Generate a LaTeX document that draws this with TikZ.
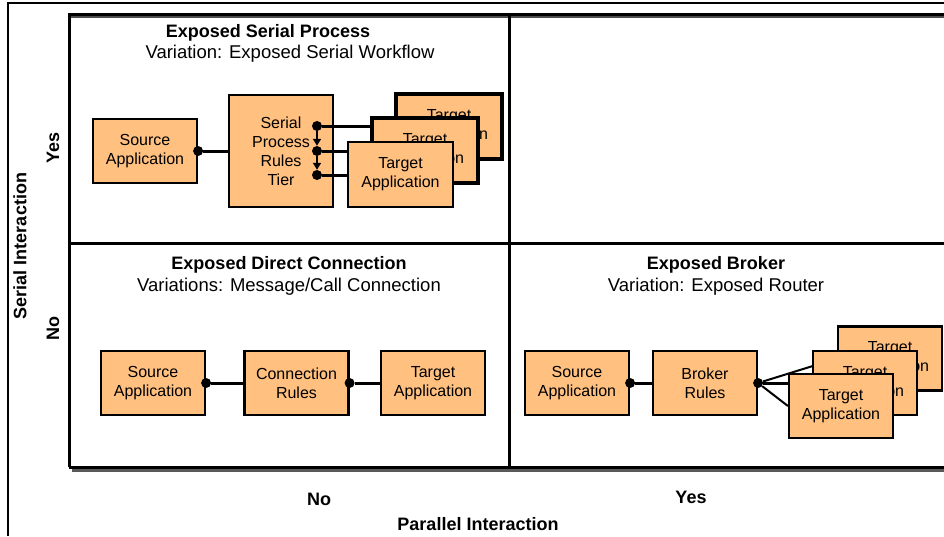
\documentclass[tikz,border=0pt]{standalone}
\usepackage{fontspec}
\setmainfont{Liberation Sans}
\usetikzlibrary{arrows.meta}
\definecolor{boxfill}{HTML}{FFC080}
\tikzset{
  every node/.style={font=\fontsize{18.5}{19}\selectfont},
  appbox/.style={draw=black, line width=2.2pt, fill=boxfill, minimum width=104pt, minimum height=64pt, align=center, inner sep=0pt, font=\fontsize{16}{19}\selectfont},
  thickbox/.style={appbox, line width=4.5pt},
  dotnode/.style={circle, fill=black, inner sep=0pt, minimum size=10pt},
  conn/.style={line width=3pt},
  gridline/.style={line width=3pt},
  title/.style={font=\fontsize{18}{19}\selectfont\bfseries},
  axislabel/.style={font=\fontsize{18}{19}\selectfont\bfseries},
}
\begin{document}
\begin{tikzpicture}[x=1pt, y=-1pt]
\useasboundingbox (0,0) rectangle (944,536);
% outer frame
\draw[line width=1.3pt] (8,536) -- (8,3) -- (944,3);
% grid with shadow
\draw[line width=4pt, gray!70!black] (72,470) -- (944,470);
\draw[line width=2pt, gray!60!black] (69,16.5) -- (944,16.5);
\draw[gridline] (69,467) -- (69,14) -- (944,14);
\draw[gridline] (69,467) -- (944,467);
\draw[gridline] (509,14) -- (509,467);
\draw[gridline] (69,243) -- (944,243);

% axis labels
\node[axislabel, rotate=90] (serial) at (20,246) {Serial Interaction};
\node[axislabel, rotate=90] (yesL) at (53,148) {Yes};
\node[axislabel, rotate=90] (noL) at (53,328) {No};
\node[axislabel] (noB) at (319,499) {No};
\node[axislabel] (yesB) at (691,497) {Yes};
\node[axislabel] (par) at (478,524) {Parallel Interaction};

% top-left quadrant
\node[title] (t1) at (268,33) {Exposed Serial Process};
\node (v1) at (290,54) {Variation: Exposed Serial Workflow};
\node[appbox] (src1) at (145,151) {Source\\Application};
\node[appbox, minimum height=112pt] (tier) at (281,151) {Serial\\Process\\Rules\\Tier};
\node[dotnode] (sd1) at (src1.east) {};
\draw[conn] (sd1) -- (tier.west |- sd1);
\node[dotnode] (d1) at (317,126) {};
\node[dotnode] (d2) at (317,151) {};
\node[dotnode] (d3) at (317,175) {};
\draw[line width=2pt, -{Triangle[length=7pt,width=8pt]}] (d1) -- (d2);
\draw[line width=2pt, -{Triangle[length=7pt,width=8pt]}] (d2) -- (d3);
\node[thickbox, minimum width=106pt, minimum height=65pt] (tA) at (449,126.5) {Target\\Application};
\draw[conn] (d1) -- (d1 -| tA.west);
\node[thickbox, minimum width=106pt, minimum height=65pt] (tB) at (425,150.5) {Target\\Application};
\draw[conn] (d2) -- (d2 -| tB.west);
\node[appbox, minimum width=105pt, minimum height=65pt] (tC) at (400.5,174.5) {Target\\Application};
\draw[conn] (d3) -- (d3 -| tC.west);

% bottom-left quadrant
\node[title] (t2) at (289,265) {Exposed Direct Connection};
\node (v2) at (289,287) {Variations: Message/Call Connection};
\node[appbox] (src2) at (153,383) {Source\\Application};
\node[appbox] (cr) at (296.5,383) {Connection\\Rules};
\node[appbox] (tg2) at (433,383) {Target\\Application};
\node[dotnode] (e1) at (src2.east) {};
\node[dotnode] (e2) at (cr.east) {};
\draw[conn] (e1) -- (cr.west);
\draw[conn] (e2) -- (tg2.west);

% bottom-right quadrant
\node[title] (t3) at (716,265) {Exposed Broker};
\node (v3) at (716,287) {Variation: Exposed Router};
\node[appbox] (src3) at (577,383) {Source\\Application};
\node[appbox] (br) at (705,383) {Broker\\Rules};
\node[dotnode] (b1) at (src3.east) {};
\node[dotnode] (b2) at (br.east) {};
\draw[conn] (b1) -- (br.west);
\node[appbox] (tD) at (890,358.5) {Target\\Application};
\draw[line width=2pt] (b2) -- (tD.west);
\node[appbox] (tE) at (865,383) {Target\\Application};
\draw[conn] (b2) -- (tE.west);
\node[appbox] (tF) at (841,406) {Target\\Application};
\draw[line width=2pt] (b2) -- (tF.west);
\end{tikzpicture}
\end{document}
